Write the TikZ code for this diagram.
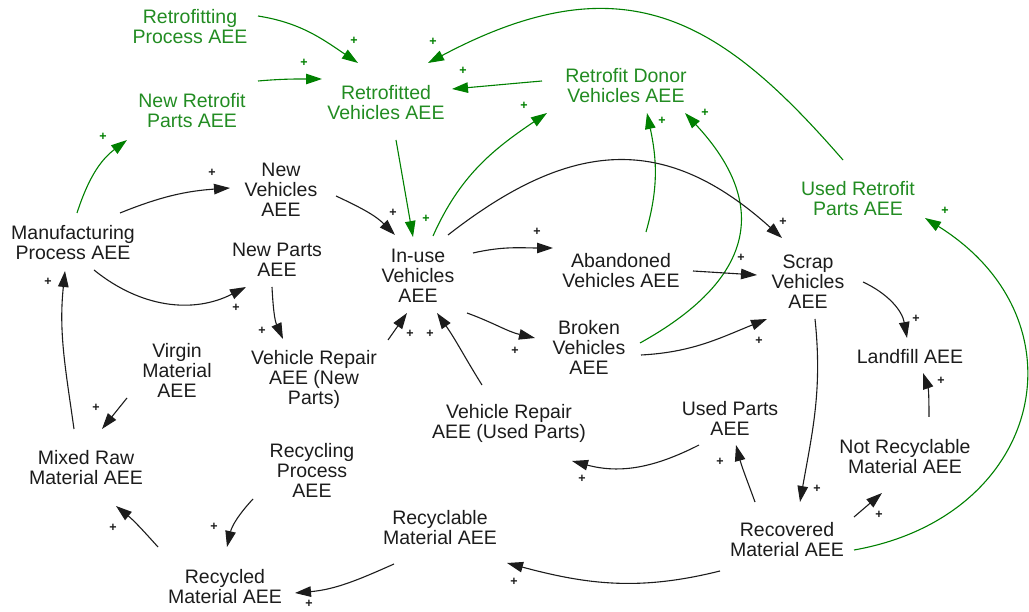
\documentclass[tikz,border=0pt]{standalone}
\usepackage{fontspec}
\setmainfont{Liberation Sans}
\usetikzlibrary{arrows.meta,calc}
\definecolor{cldgreen}{RGB}{0,128,0}
\definecolor{cldgreentext}{RGB}{34,140,34}
\definecolor{cldblack}{RGB}{28,28,28}

\begin{document}
\begin{tikzpicture}[x=1pt,y=1pt,
  var/.style={align=center,inner sep=0pt,font=\fontsize{19.5}{20}\selectfont,text=cldblack},
  gvar/.style={var,text=cldgreentext},
  lnk/.style={draw=cldblack,line width=1.1pt,-{Triangle[length=16pt,width=10.5pt]}},
  glnk/.style={lnk,draw=cldgreen},
  pol/.style={font=\fontsize{12.5}{12.5}\selectfont\bfseries,inner sep=0pt,text=cldblack},
  gpol/.style={pol,text=cldgreen}]
\useasboundingbox (0,0) rectangle (1029,611);

% ---- variables ----
\node[gvar] (rproc)      at (190,584) {Retrofitting\\Process AEE};
\node[gvar] (nrparts)    at (192,500) {New Retrofit\\Parts AEE};
\node[gvar] (rveh)       at (386,508) {Retrofitted\\Vehicles AEE};
\node[gvar] (donor)      at (626,525) {Retrofit Donor\\Vehicles AEE};
\node[gvar] (urparts)    at (858,412) {Used Retrofit\\Parts AEE};
\node[var]  (manuf)      at (73,368)  {Manufacturing\\Process AEE};
\node[var]  (newveh)     at (281,421) {New\\Vehicles\\AEE};
\node[var]  (newparts)   at (277,351) {New Parts\\AEE};
\node[var]  (inuse)      at (418,335) {In-use\\Vehicles\\AEE};
\node[var]  (aband)      at (621,340) {Abandoned\\Vehicles AEE};
\node[var]  (scrap)      at (808,329) {Scrap\\Vehicles\\AEE};
\node[var]  (broken)     at (589,264) {Broken\\Vehicles\\AEE};
\node[var]  (landfill)   at (910,254) {Landfill AEE};
\node[var]  (virgin)     at (177,241) {Virgin\\Material\\AEE};
\node[var]  (repnew)     at (314,232) {Vehicle Repair\\AEE (New\\Parts)};
\node[var]  (repused)    at (509,188) {Vehicle Repair\\AEE (Used Parts)};
\node[var]  (usedparts)  at (730,193) {Used Parts\\AEE};
\node[var]  (notrec)     at (905,154) {Not Recyclable\\Material AEE};
\node[var]  (mixed)      at (86,143)  {Mixed Raw\\Material AEE};
\node[var]  (recproc)    at (312,141) {Recycling\\Process\\AEE};
\node[var]  (recyclable) at (440,83)  {Recyclable\\Material AEE};
\node[var]  (recovered)  at (787,71)  {Recovered\\Material AEE};
\node[var]  (recycled)   at (225,24)  {Recycled\\Material AEE};

% ---- retrofit links ----
\draw[glnk] ($(rproc)+(68,11)$) to[out=-9,in=146] ($(rveh)+(-28,40)$);
\draw[glnk] ($(nrparts)+(66,30)$) to[out=5,in=180] ($(rveh)+(-64,24)$);
\draw[glnk] ($(donor)+(-84,5)$) to[out=185,in=5] ($(rveh)+(66,14)$);
\draw[glnk] ($(urparts)+(-15,39)$) to[out=131,in=28,out looseness=1.1,in looseness=1.35] ($(rveh)+(42,40)$);
\draw[glnk] ($(manuf)+(4,30)$) to[out=72,in=217] ($(nrparts)+(-65,-29)$);
\draw[glnk] ($(rveh)+(10,-37)$) to[out=-80,in=100] ($(inuse)+(-5,39)$);
\draw[glnk] ($(inuse)+(15,40)$) to[out=66,in=214] ($(donor)+(-79,-27)$);
\draw[glnk] ($(aband)+(25,39)$) to[out=74,in=282] ($(donor)+(21,-27)$);
\draw[glnk] ($(broken)+(51,4)$) to[out=29,in=313,looseness=1.4] ($(donor)+(59,-27)$);
\draw[glnk] ($(recovered)+(67,-10)$) to[out=10,in=328,looseness=1.45] ($(urparts)+(67,-19)$);

% ---- vehicle and material links ----
\draw[lnk] ($(manuf)+(47,30)$) to[out=22,in=184] ($(newveh)+(-51,2)$);
\draw[lnk] ($(manuf)+(21,-27)$) to[out=-39,in=207] ($(newparts)+(-31,-27)$);
\draw[lnk] ($(mixed)+(-12,39)$) to[out=98,in=264] ($(manuf)+(-8,-28)$);
\draw[lnk] ($(virgin)+(-50,-28)$) -- ($(mixed)+(16,39)$);
\draw[lnk] ($(recycled)+(-67,40)$) to[out=132,in=321] ($(mixed)+(30,-38)$);
\draw[lnk] ($(recproc)+(-59,-29)$) to[out=227,in=77] ($(recycled)+(2,40)$);
\draw[lnk] ($(recyclable)+(-46,-36)$) to[out=204,in=5] ($(recycled)+(70,-6)$);
\draw[lnk] ($(recovered)+(-67,-31)$) to[out=194,in=345] ($(recyclable)+(67,-35)$);
\draw[lnk] ($(recovered)+(-32,38)$) to[out=110,in=285] ($(usedparts)+(6,-27)$);
\draw[lnk] ($(usedparts)+(-31,-27)$) to[out=207,in=345] ($(repused)+(63,-38)$);
\draw[lnk] ($(recovered)+(67,23)$) -- ($(notrec)+(-23,-36)$);
\draw[lnk] ($(notrec)+(24,40)$) to[out=90,in=289] ($(landfill)+(13,-16)$);
\draw[lnk] ($(scrap)+(55,0)$) to[out=-25,in=100] ($(landfill)+(-3,19)$);
\draw[lnk] ($(scrap)+(7,-37)$) to[out=-84,in=80] ($(recovered)+(13,38)$);
\draw[lnk] ($(aband)+(72,0)$) -- ($(scrap)+(-51,7)$);
\draw[lnk] ($(broken)+(52,-8)$) to[out=3,in=202] ($(scrap)+(-41,-37)$);
\draw[lnk] ($(inuse)+(30,41)$) to[out=38,in=138,looseness=1.2] ($(scrap)+(-26,44)$);
\draw[lnk] ($(inuse)+(55,23)$) to[out=13,in=180] ($(aband)+(-68,23)$);
\draw[lnk] ($(inuse)+(49,-37)$) to[out=-20,in=167] ($(broken)+(-54,9)$);
\draw[lnk] ($(newveh)+(55,-6)$) to[out=-25,in=135] ($(inuse)+(-23,41)$);
\draw[lnk] ($(newparts)+(-5,-27)$) to[out=-87,in=114] ($(repnew)+(-31,40)$);
\draw[lnk] ($(repnew)+(74,39)$) -- ($(inuse)+(-11,-37)$);
\draw[lnk] ($(repused)+(-27,38)$) to[out=122,in=305] ($(inuse)+(19,-37)$);

% ---- polarity signs ----
\node[gpol] (p1)  at (354,570) {+};
\node[gpol] (p2)  at (304,548) {+};
\node[gpol] (p3)  at (463,540) {+};
\node[gpol] (p4)  at (433,569) {+};
\node[gpol] (p5)  at (103,474) {+};
\node[gpol] (p6)  at (426,392) {+};
\node[gpol] (p7)  at (524,505) {+};
\node[gpol] (p8)  at (662,490) {+};
\node[gpol] (p9)  at (705,498) {+};
\node[gpol] (p10) at (945,400) {+};
\node[pol] (p11) at (212,438) {+};
\node[pol] (p12) at (236,303) {+};
\node[pol] (p13) at (48,329)  {+};
\node[pol] (p14) at (96,203)  {+};
\node[pol] (p15) at (113,83)  {+};
\node[pol] (p16) at (214,84)  {+};
\node[pol] (p17) at (309,7)   {+};
\node[pol] (p18) at (514,29)  {+};
\node[pol] (p19) at (720,149) {+};
\node[pol] (p20) at (582,132) {+};
\node[pol] (p21) at (879,96)  {+};
\node[pol] (p22) at (941,230) {+};
\node[pol] (p23) at (916,292) {+};
\node[pol] (p24) at (817,122) {+};
\node[pol] (p25) at (741,353) {+};
\node[pol] (p26) at (759,270) {+};
\node[pol] (p27) at (783,389) {+};
\node[pol] (p28) at (537,379) {+};
\node[pol] (p29) at (515,260) {+};
\node[pol] (p30) at (393,398) {+};
\node[pol] (p31) at (262,280) {+};
\node[pol] (p32) at (410,277) {+};
\node[pol] (p33) at (430,277) {+};
\end{tikzpicture}
\end{document}
